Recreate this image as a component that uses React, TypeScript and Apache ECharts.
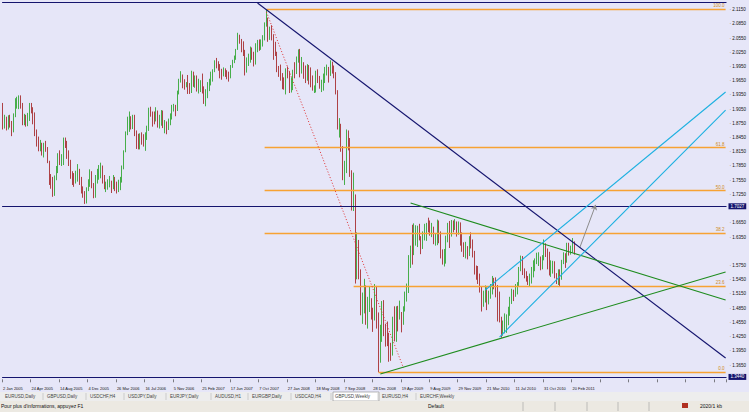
import React, { useEffect, useRef } from 'react';
import * as echarts from 'echarts';

// GBPUSD weekly, [close, high, low]; the open of each week is the previous week's close
const firstOpen = 1.918;
const w2005 = [
  [1.870,1.918,1.862],[1.882,1.893,1.864],[1.868,1.889,1.860],[1.885,1.892,1.862],[1.873,1.893,1.866],
  [1.860,1.880,1.848],[1.890,1.896,1.856],[1.918,1.928,1.888],[1.921,1.931,1.906],[1.926,1.934,1.905],
  [1.912,1.934,1.906],[1.883,1.918,1.871],[1.883,1.895,1.871],[1.880,1.893,1.868],[1.889,1.897,1.869],
  [1.914,1.918,1.880],[1.909,1.918,1.896],[1.893,1.907,1.873],[1.852,1.898,1.848],[1.836,1.862,1.826],
  [1.822,1.847,1.816],[1.831,1.840,1.816],[1.815,1.834,1.807],[1.828,1.834,1.803],[1.821,1.838,1.815],
  [1.792,1.825,1.791],[1.752,1.796,1.745],[1.746,1.768,1.737],[1.722,1.762,1.720],[1.760,1.765,1.725],
  [1.774,1.785,1.755],[1.807,1.812,1.770],[1.795,1.818,1.787],[1.796,1.810,1.785],[1.842,1.845,1.787],
  [1.835,1.845,1.823],[1.806,1.838,1.800],[1.793,1.818,1.785],[1.767,1.798,1.758],[1.758,1.774,1.745],
  [1.751,1.770,1.741],[1.766,1.775,1.748],[1.770,1.789,1.752],[1.758,1.779,1.745],[1.735,1.762,1.727],
  [1.722,1.742,1.718],[1.718,1.732,1.705],[1.737,1.740,1.706],[1.751,1.757,1.732],[1.768,1.778,1.741],
  [1.742,1.774,1.738],[1.721,1.749,1.717],
];
const w2006 = [
  [1.763,1.766,1.718],[1.766,1.779,1.748],[1.772,1.787,1.756],[1.783,1.792,1.759],[1.758,1.786,1.748],
  [1.741,1.766,1.736],[1.741,1.752,1.730],[1.746,1.757,1.735],[1.749,1.764,1.740],[1.741,1.754,1.728],
  [1.760,1.766,1.736],[1.742,1.762,1.732],[1.741,1.752,1.727],[1.746,1.756,1.730],[1.755,1.762,1.734],
  [1.782,1.786,1.750],[1.817,1.818,1.778],[1.851,1.858,1.814],[1.880,1.889,1.850],[1.880,1.900,1.857],
  [1.872,1.890,1.862],[1.875,1.893,1.863],[1.853,1.893,1.848],[1.845,1.860,1.821],[1.832,1.853,1.820],
  [1.849,1.854,1.820],[1.846,1.856,1.830],[1.837,1.852,1.826],[1.850,1.856,1.817],[1.866,1.870,1.840],
  [1.906,1.908,1.859],[1.898,1.910,1.889],[1.888,1.900,1.868],[1.885,1.900,1.873],[1.898,1.909,1.879],
  [1.872,1.902,1.866],[1.883,1.893,1.864],[1.886,1.903,1.870],[1.872,1.902,1.865],[1.872,1.882,1.854],
  [1.862,1.879,1.852],[1.879,1.885,1.861],[1.891,1.896,1.871],[1.904,1.914,1.883],[1.910,1.916,1.900],
  [1.903,1.914,1.890],[1.936,1.944,1.901],[1.967,1.969,1.936],[1.976,1.985,1.961],[1.962,1.978,1.949],
  [1.956,1.968,1.946],[1.958,1.962,1.951],
];
const w2007 = [
  [1.946,1.977,1.937],[1.940,1.960,1.937],[1.979,1.986,1.939],[1.961,1.984,1.952],[1.964,1.976,1.950],
  [1.951,1.976,1.942],[1.956,1.969,1.938],[1.962,1.966,1.941],[1.950,1.980,1.938],[1.934,1.953,1.916],
  [1.941,1.947,1.911],[1.957,1.962,1.928],[1.968,1.969,1.943],[1.978,1.984,1.955],[1.987,1.989,1.963],
  [2.002,2.008,1.983],[1.998,2.013,1.991],[1.994,2.006,1.986],[1.982,2.000,1.970],[1.978,1.990,1.967],
  [1.989,1.993,1.974],[1.985,1.991,1.973],[1.974,1.987,1.968],[1.973,1.984,1.963],[1.995,1.998,1.970],
  [2.009,2.009,1.992],[2.013,2.018,2.002],[2.032,2.032,2.009],[2.062,2.066,2.030],[2.051,2.062,2.043],
  [2.036,2.053,2.025],[2.029,2.048,2.017],[1.986,2.030,1.976],[2.005,2.014,1.982],[2.011,2.022,1.996],
  [2.032,2.037,2.003],[2.017,2.035,2.009],[2.004,2.026,1.995],[2.042,2.044,1.999],[2.049,2.051,2.025],
  [2.037,2.052,2.028],[2.043,2.052,2.030],[2.058,2.061,2.037],[2.079,2.088,2.050],[2.090,2.116,2.079],
  [2.055,2.098,2.047],[2.063,2.079,2.051],[2.057,2.082,2.050],[2.027,2.063,2.009],[2.022,2.047,2.017],
  [1.987,2.026,1.983],[1.985,1.996,1.973],
];
const w2008 = [
  [1.979,1.999,1.965],[1.960,1.981,1.947],[1.959,1.972,1.946],[1.989,1.991,1.936],[1.978,1.995,1.970],
  [1.957,1.985,1.939],[1.957,1.972,1.940],[1.986,1.988,1.945],[1.985,2.004,1.970],[2.011,2.016,1.979],
  [2.016,2.031,2.003],[1.985,2.032,1.972],[1.996,2.015,1.980],[1.994,2.004,1.969],[1.975,1.997,1.960],
  [1.996,2.000,1.965],[1.984,1.998,1.957],[1.968,1.993,1.951],[1.950,1.976,1.944],[1.950,1.955,1.939],
  [1.976,1.986,1.940],[1.971,1.989,1.960],[1.958,1.975,1.948],[1.964,1.967,1.941],[1.971,1.980,1.944],
  [1.991,1.994,1.960],[1.994,1.999,1.976],[1.978,1.992,1.961],[1.998,2.008,1.975],[1.994,2.005,1.980],
  [1.983,1.997,1.970],[1.940,1.980,1.936],[1.866,1.945,1.862],[1.868,1.886,1.845],[1.818,1.874,1.815],
  [1.759,1.827,1.755],[1.793,1.796,1.745],[1.847,1.862,1.770],[1.840,1.860,1.818],[1.776,1.844,1.762],
  [1.705,1.775,1.691],[1.718,1.771,1.690],[1.584,1.725,1.537],[1.616,1.645,1.546],[1.566,1.629,1.546],
  [1.481,1.567,1.470],[1.484,1.518,1.452],[1.533,1.547,1.474],[1.461,1.532,1.450],[1.494,1.509,1.442],
  [1.505,1.531,1.477],[1.479,1.506,1.461],
];
const w2009 = [
  [1.466,1.486,1.435],[1.512,1.536,1.459],[1.469,1.532,1.442],[1.371,1.476,1.350],[1.448,1.450,1.370],
  [1.481,1.500,1.414],[1.440,1.502,1.426],[1.426,1.452,1.404],[1.418,1.457,1.405],[1.392,1.433,1.372],
  [1.388,1.412,1.374],[1.444,1.467,1.385],[1.431,1.489,1.415],[1.475,1.489,1.414],[1.468,1.490,1.436],
  [1.472,1.501,1.461],[1.466,1.477,1.434],[1.480,1.489,1.450],[1.513,1.520,1.478],[1.528,1.537,1.499],
  [1.595,1.597,1.517],[1.616,1.617,1.570],[1.615,1.661,1.577],[1.640,1.664,1.597],[1.645,1.660,1.617],
  [1.654,1.659,1.614],[1.632,1.663,1.628],[1.616,1.637,1.599],[1.642,1.647,1.610],[1.647,1.663,1.628],
  [1.662,1.665,1.627],[1.660,1.676,1.645],[1.649,1.670,1.638],[1.652,1.665,1.635],[1.630,1.657,1.620],
  [1.634,1.642,1.617],[1.663,1.672,1.618],[1.628,1.670,1.622],[1.595,1.647,1.590],[1.590,1.609,1.577],
  [1.598,1.610,1.573],[1.632,1.638,1.579],[1.656,1.665,1.624],[1.650,1.669,1.612],[1.664,1.671,1.636],
  [1.659,1.670,1.645],[1.662,1.673,1.650],[1.653,1.668,1.636],[1.663,1.668,1.640],[1.623,1.666,1.617],
  [1.611,1.645,1.604],[1.599,1.624,1.593],
];
const w2010 = [
  [1.615,1.625,1.590],[1.603,1.616,1.588],[1.630,1.637,1.595],[1.615,1.645,1.611],[1.598,1.630,1.592],
  [1.562,1.606,1.556],[1.560,1.575,1.545],[1.542,1.574,1.536],[1.525,1.558,1.518],[1.505,1.530,1.478],
  [1.513,1.522,1.488],[1.520,1.533,1.497],[1.495,1.529,1.481],[1.519,1.522,1.493],[1.530,1.536,1.505],
  [1.543,1.553,1.514],[1.539,1.549,1.525],[1.529,1.550,1.508],[1.480,1.534,1.457],[1.463,1.520,1.455],
  [1.440,1.467,1.423],[1.444,1.459,1.427],[1.450,1.474,1.432],[1.453,1.472,1.433],[1.480,1.488,1.449],
  [1.505,1.509,1.469],[1.519,1.526,1.494],[1.514,1.524,1.500],[1.525,1.536,1.509],[1.540,1.540,1.514],
  [1.571,1.572,1.531],[1.595,1.596,1.563],[1.560,1.591,1.555],[1.556,1.569,1.548],[1.553,1.563,1.541],
  [1.545,1.553,1.534],[1.550,1.558,1.530],[1.566,1.572,1.537],[1.583,1.586,1.550],[1.588,1.590,1.563],
  [1.593,1.602,1.578],[1.593,1.603,1.574],[1.576,1.594,1.565],[1.586,1.597,1.567],[1.604,1.630,1.591],
  [1.600,1.622,1.593],[1.581,1.611,1.567],[1.559,1.604,1.554],[1.574,1.586,1.551],[1.578,1.585,1.558],
  [1.556,1.584,1.548],[1.548,1.559,1.536],
];
const w2011 = [
  [1.559,1.567,1.534],[1.545,1.567,1.531],[1.582,1.587,1.551],[1.596,1.603,1.578],[1.584,1.601,1.570],
  [1.610,1.623,1.581],[1.602,1.623,1.596],[1.611,1.617,1.598],[1.615,1.633,1.602],[1.604,1.626,1.598],
];

const weekStart = Date.UTC(2005, 0, 2);
const totalSlots = 407; // weekly slots shown across the plot, incl. empty future space
const monthNames = ['Jan','Feb','Mar','Apr','May','Jun','Jul','Aug','Sep','Oct','Nov','Dec'];

// Fibonacci retracement
const fibLabels = ['100.0', '61.8', '50.0', '38.2', '23.6', '0.0'];
const fibPrices = [2.1162, 1.8236, 1.7333, 1.6429, 1.5311, 1.3503];
const fibStartWeek = [148, 147, 147, 147, 197, 211];

// hand-drawn objects: [week index, price]
const navyTrend = [[143, 2.1289], [406, 1.3799]];
const redDotted = [[148, 2.1100], [225, 1.3588]];
const greenResistance = [[229, 1.7069], [406, 1.5023]];
const greenSupport = [[212, 1.3462], [406, 1.5614]];
const cyanLower = [[279, 1.4242], [406, 1.9031]];
const cyanUpper = [[271, 1.5234], [406, 1.9411]];
const grayArrow = [[324, 1.612], [333, 1.703]];

const hLines = [2.1331, 1.7027, 1.3440];
const bidPrice = 1.6040;

const tabNames = ['EURUSD,Daily','GBPUSD,Daily','USDCHF,H4','USDJPY,Daily','EURJPY,Daily','AUDUSD,H1','EURGBP,Daily','USDCAD,H4','GBPUSD,Weekly','EURUSD,H4','EURCHF,Weekly'];
const tabX = [5, 47, 90, 128, 170, 215, 252, 295, 335, 382, 420];

export default function App() {
  const ref = useRef<HTMLDivElement>(null);
  useEffect(() => {
    if (!ref.current) return;
    const chart = echarts.init(ref.current, undefined, { renderer: 'svg' });
    const bars = [...w2005, ...w2006, ...w2007, ...w2008, ...w2009, ...w2010, ...w2011];
    const ohlc = bars.map((b, i) => {
      const o = i === 0 ? firstOpen : bars[i - 1][0];
      const c = b[0];
      return [o, c, Math.min(b[2], o, c), Math.max(b[1], o, c)];
    });
    const cats: string[] = [];
    for (let i = 0; i < totalSlots; i++) {
      if (i < bars.length) {
        const d = new Date(weekStart + i * 7 * 86400000);
        cats.push(`${d.getUTCDate()} ${monthNames[d.getUTCMonth()]} ${d.getUTCFullYear()}`);
      } else cats.push('');
    }
    const lineSeries = (data: number[][], color: string, type: any = 'solid', width = 1) => ({
      type: 'line', data, showSymbol: false, silent: true, z: 5,
      lineStyle: { color, width, type }, animation: false,
    });
    const navy = '#14146E';
    const orange = '#F7A233';
    const fibMarks = fibPrices.map((p, i) => [
      { coord: [fibStartWeek[i], p], label: { formatter: fibLabels[i] } },
      { coord: [totalSlots - 1, p] },
    ]);
    const labelBox = (txt: string) => ({
      show: true, position: 'end', formatter: txt, distance: 2, fontSize: 4.5,
      color: '#fff', backgroundColor: navy, padding: [1, 2, 0, 2], fontFamily: 'Liberation Sans',
    });
    const boxed = [hLines[1], hLines[2], bidPrice];
    chart.setOption({
      animation: false,
      backgroundColor: '#E6E6F8',
      grid: { left: 0, right: 17, top: 0, height: 379.3 },
      xAxis: {
        type: 'category', data: cats, boundaryGap: true,
        axisLine: { show: false },
        axisTick: { show: true, interval: 15, length: 3, lineStyle: { color: '#333', width: 0.6 } },
        axisLabel: { interval: 15, fontSize: 4, color: '#111', align: 'left', margin: 7, fontFamily: 'Liberation Sans' },
        splitLine: { show: false },
      },
      yAxis: {
        type: 'value', position: 'right', min: 1.335, max: 2.1352, interval: 0.015, scale: true,
        axisLine: { show: false }, axisTick: { show: false }, splitLine: { show: false },
        axisLabel: {
          fontSize: 4.5, color: '#111', margin: 3, fontFamily: 'Liberation Sans',
          formatter: (v: number) => {
            if (Math.round((v - 1.335) / 0.015) % 2 !== 0 || v > 2.13) return '';
            if (boxed.some((b) => Math.abs(b - v) < 0.013)) return '';
            return '· ' + v.toFixed(4);
          },
        },
      },
      series: [
        {
          type: 'candlestick', data: ohlc, barWidth: '60%', z: 3,
          itemStyle: { color: '#1EA01E', color0: '#5A1414', borderColor: '#1EA01E', borderColor0: '#A01818', borderWidth: 0.8 },
          markLine: {
            silent: true, symbol: ['none', 'none'], animation: false,
            lineStyle: { color: orange, width: 1.4, type: 'solid' },
            label: { position: 'insideEndTop', fontSize: 4.5, color: '#D08A20', distance: 1, fontFamily: 'Liberation Sans' },
            data: fibMarks,
          },
        },
        {
          type: 'line', data: [], silent: true,
          markLine: {
            silent: true, symbol: ['none', 'none'], animation: false,
            lineStyle: { color: navy, width: 1.2, type: 'solid' },
            data: [
              { yAxis: hLines[0], label: { show: false } },
              { yAxis: hLines[1], label: labelBox(hLines[1].toFixed(4)) },
              { yAxis: hLines[2], label: labelBox(hLines[2].toFixed(4)) },
              { yAxis: bidPrice, lineStyle: { width: 0, opacity: 0 }, label: labelBox(bidPrice.toFixed(4)) },
            ],
          },
        },
        {
          type: 'line', data: [], silent: true,
          markLine: {
            silent: true, symbol: ['none', 'arrow'], symbolSize: 5, animation: false,
            lineStyle: { color: '#8C8C8C', width: 1, type: 'solid', curveness: -0.25 },
            label: { show: false },
            data: [[{ coord: grayArrow[0] }, { coord: grayArrow[1] }]],
          },
        },
        lineSeries(navyTrend, navy, 'solid', 1.1),
        lineSeries(redDotted, '#E03030', [1, 2], 1),
        lineSeries(greenResistance, '#1E8C1E', 'solid', 1.1),
        lineSeries(greenSupport, '#1E8C1E', 'solid', 1.1),
        lineSeries(cyanLower, '#1CB0E0', 'solid', 1.1),
        lineSeries(cyanUpper, '#1CB0E0', 'solid', 1.1),
      ],
      graphic: [
        { type: 'rect', shape: { x: 0, y: 392, width: 749, height: 9 }, style: { fill: '#EDEDED' }, silent: true },
        { type: 'rect', shape: { x: 333, y: 392, width: 46, height: 9 }, style: { fill: '#FFFFFF', stroke: '#8A8A8A', lineWidth: 0.6 }, silent: true },
        ...tabNames.map((t, i) => ({
          type: 'text', x: tabX[i], y: 394, silent: true,
          style: { text: t, fontSize: 4.5, fill: '#444', fontFamily: 'Liberation Sans' },
        })),
        ...tabX.slice(1).map((x) => ({
          type: 'line', shape: { x1: x - 4, y1: 393, x2: x - 4, y2: 400 }, style: { stroke: '#AAA', lineWidth: 0.5 }, silent: true,
        })),
        { type: 'rect', shape: { x: 0, y: 401, width: 749, height: 11 }, style: { fill: '#ECE9E2' }, silent: true },
        { type: 'text', x: 1, y: 403.5, silent: true, style: { text: "Pour plus d'informations, appuyez F1", fontSize: 5, fill: '#111', fontFamily: 'Liberation Sans' } },
        { type: 'text', x: 428, y: 403.5, silent: true, style: { text: 'Default', fontSize: 5, fill: '#111', fontFamily: 'Liberation Sans' } },
        ...[523, 555, 587, 618, 649].map((x) => ({
          type: 'line', shape: { x1: x, y1: 402, x2: x, y2: 411 }, style: { stroke: '#A0A0A0', lineWidth: 0.6 }, silent: true,
        })),
        { type: 'rect', shape: { x: 682, y: 403, width: 6, height: 5 }, style: { fill: '#B03020' }, silent: true },
        { type: 'text', x: 700, y: 403.5, silent: true, style: { text: '2020/1 kb', fontSize: 5, fill: '#111', fontFamily: 'Liberation Sans' } },
      ],
    });
    return () => chart.dispose();
  }, []);
  return <div ref={ref} style={{ position: 'fixed', left: 0, top: 0, width: 749, height: 412 }} />;
}
